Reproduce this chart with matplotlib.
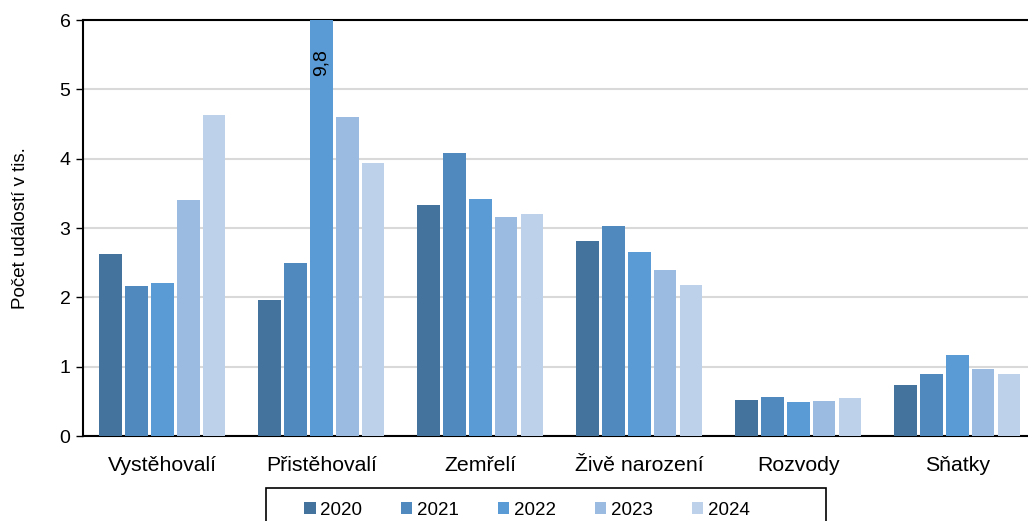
import numpy as np
import matplotlib
matplotlib.use('Agg')
import matplotlib.pyplot as plt
from matplotlib.patches import Rectangle

plt.rcParams['font.family'] = ['Liberation Sans', 'DejaVu Sans']

kategorie = ['Vystěhovalí', 'Přistěhovalí', 'Zemřelí', 'Živě narození', 'Rozvody', 'Sňatky']
roky = ['2020', '2021', '2022', '2023', '2024']
hodnoty = {
    '2020': [2.63, 1.96, 3.33, 2.81, 0.52, 0.74],
    '2021': [2.16, 2.50, 4.08, 3.03, 0.56, 0.89],
    '2022': [2.21, 9.8, 3.42, 2.66, 0.49, 1.17],
    '2023': [3.40, 4.60, 3.16, 2.40, 0.50, 0.97],
    '2024': [4.63, 3.94, 3.20, 2.18, 0.55, 0.89],
}
barvy = ['#44739e', '#4f89bd', '#5b9bd5', '#9bbbe0', '#bdd1ea']

fig = plt.figure(figsize=(10.28, 5.21), dpi=100)
ax = fig.add_axes([0.0807, 0.163, 0.928, 0.7985])

x = np.arange(len(kategorie))
krok = 0.163
for i, rok in enumerate(roky):
    ax.bar(x + (i - 2) * krok, hodnoty[rok], width=0.14, color=barvy[i],
           label=rok, zorder=3)

# popisek preteceneho sloupce
idx = kategorie.index('Přistěhovalí')
ax.text(x[idx], 5.38, str(hodnoty['2022'][idx]).replace('.', ','), rotation=90,
        ha='center', va='center', fontsize=14)

ax.set_ylim(0, 6)
ax.set_xlim(-0.5, len(kategorie) - 0.5)
ax.set_yticks(range(0, 7))
ax.set_xticks(x)
ax.set_xticklabels(kategorie, fontsize=15.3)
ax.tick_params(axis='y', labelsize=14, length=5, width=1, pad=4)
ax.tick_params(axis='x', length=0, pad=14)
ax.yaxis.grid(True, color='#d9d9d9', linewidth=1.5, zorder=0)
ax.set_axisbelow(True)
for s in ['top', 'left', 'bottom', 'right']:
    ax.spines[s].set_color('black')
    ax.spines[s].set_linewidth(1.5)
ax.set_ylabel('Počet událostí v tis.', fontsize=13.5)
ax.yaxis.set_label_coords(-54 / 954, 0.5)

# ramecek legendy
fig.patches.append(Rectangle((266 / 1028, -0.1), 560 / 1028, 0.1 + 33 / 521,
                             transform=fig.transFigure, fill=False,
                             edgecolor='black', linewidth=1.2))
leg = fig.legend(loc='center left', bbox_to_anchor=(0.296, 0.021), ncol=5,
                 fontsize=13.5, frameon=False,
                 handlelength=0.6, handleheight=0.6, handletextpad=0.25,
                 columnspacing=2.08, borderpad=0.0, borderaxespad=0.0)

fig.savefig('out.png', dpi=100)
